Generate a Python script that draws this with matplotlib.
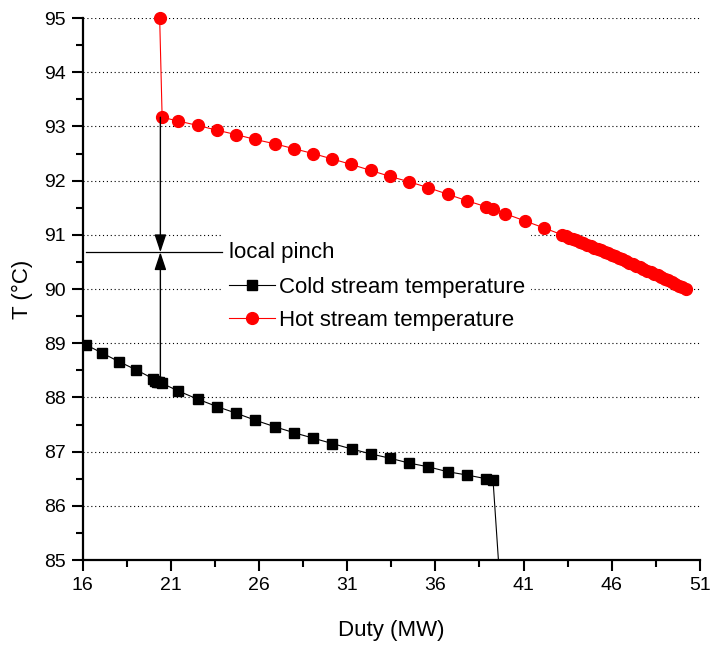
import matplotlib.pyplot as plt
from matplotlib.patches import Rectangle
from matplotlib.ticker import MultipleLocator

plt.rcParams['font.family'] = ['Liberation Sans', 'DejaVu Sans']

# cold stream (squares)
cold_x = [16.2, 17.11, 18.07, 19.04, 19.98, 20.08, 20.21, 20.36, 20.51, 21.43,
          22.52, 23.64, 24.71, 25.80, 26.90, 27.99, 29.07, 30.16, 31.25, 32.33,
          33.42, 34.51, 35.61, 36.70, 37.79, 38.89, 39.27, 39.68]
cold_t = [88.97, 88.82, 88.66, 88.51, 88.35, 88.31, 88.29, 88.28, 88.26, 88.12,
          87.97, 87.83, 87.71, 87.58, 87.46, 87.35, 87.25, 87.15, 87.05, 86.96,
          86.88, 86.79, 86.72, 86.63, 86.57, 86.50, 86.48, 84.5]

# hot stream (circles)
hot_x = [20.37, 20.51, 21.43, 22.52, 23.64, 24.71, 25.80, 26.90, 27.99, 29.07,
         30.16, 31.23, 32.33, 33.42, 34.51, 35.61, 36.70, 37.79, 38.87, 39.26,
         39.97, 41.06, 42.15,
         43.2, 43.4, 43.6, 43.8, 44.0, 44.2, 44.4, 44.6, 44.8, 45.0, 45.2, 45.4,
         45.6, 45.8, 46.0, 46.2, 46.4, 46.6, 46.8, 47.0, 47.2, 47.4, 47.6, 47.8,
         48.0, 48.2, 48.4, 48.6, 48.8, 49.0, 49.2, 49.4, 49.6, 49.8, 50.0, 50.2]
hot_t = [95.0, 93.17, 93.10, 93.02, 92.93, 92.85, 92.76, 92.68, 92.59, 92.50,
         92.40, 92.30, 92.19, 92.08, 91.98, 91.87, 91.75, 91.63, 91.52, 91.47,
         91.39, 91.26, 91.13,
         91.00, 90.975, 90.95, 90.924, 90.898, 90.872, 90.846, 90.82, 90.794,
         90.767, 90.74, 90.713, 90.686, 90.658, 90.63, 90.602, 90.574, 90.546,
         90.518, 90.489, 90.46, 90.431, 90.402, 90.372, 90.342, 90.312, 90.282,
         90.252, 90.222, 90.191, 90.16, 90.129, 90.098, 90.066, 90.034, 90.0]

# local pinch marker
pinch_x = 20.41
pinch_t = 90.68
pinch_hot = 93.17
pinch_cold = 88.27

x_ticks = [16, 21, 26, 31, 36, 41, 46, 51]
x_minor = [18.5, 23.5, 28.5, 33.5, 38.5, 43.5, 48.5]

fig = plt.figure(figsize=(7.12, 6.46), dpi=100)
ax = fig.add_axes([0.116, 0.133, 0.867, 0.839])

ax.plot(cold_x, cold_t, color='black', lw=0.8, marker='s', ms=7.5,
        label='Cold stream temperature', zorder=3)
ax.plot(hot_x, hot_t, color='red', lw=0.8, marker='o', ms=8.5,
        label='Hot stream temperature', zorder=3, clip_on=False)

# arrows meeting at the pinch
arr = dict(arrowstyle='-|>,head_length=0.6,head_width=0.2', color='black', lw=1.0,
           mutation_scale=18, shrinkA=0, shrinkB=0)
ax.annotate('', xy=(pinch_x, pinch_t), xytext=(pinch_x, pinch_hot), arrowprops=arr)
ax.annotate('', xy=(pinch_x, pinch_t), xytext=(pinch_x, pinch_cold), arrowprops=arr)
ax.plot([16.2, 23.93], [pinch_t, pinch_t], color='black', lw=0.9, zorder=4)

# white area behind the legend texts
ax.add_patch(Rectangle((0.2265, 0.4154), 0.5006, 0.188, transform=ax.transAxes,
                       facecolor='white', edgecolor='none', zorder=1))
ax.text(24.32, pinch_t, 'local pinch', fontsize=16, va='center', ha='left', zorder=5)

leg = ax.legend(loc='upper left', bbox_to_anchor=(0.2375, 0.523), frameon=False,
                fontsize=16, handlelength=2.05, handletextpad=0.2,
                labelspacing=0.55, borderpad=0, borderaxespad=0)

ax.set_xlim(16, 51)
ax.set_ylim(85, 95)
ax.set_xticks(x_ticks)
ax.set_xticks(x_minor, minor=True)
ax.yaxis.set_major_locator(MultipleLocator(1))
ax.yaxis.set_minor_locator(MultipleLocator(0.5))

ax.yaxis.grid(True, which='major', color='black', lw=0.8, linestyle=(0, (1, 2.5)))
ax.set_axisbelow(True)

ax.spines['top'].set_visible(False)
ax.spines['right'].set_visible(False)
ax.spines['left'].set_linewidth(1.6)
ax.spines['bottom'].set_linewidth(1.6)
ax.tick_params(which='major', direction='out', length=8, width=1.5, labelsize=14, pad=4)
ax.tick_params(which='minor', direction='out', length=5, width=1.5)

ax.set_xlabel('Duty (MW)', fontsize=16, labelpad=19)
ax.set_ylabel('T (°C)', fontsize=16, labelpad=8)

fig.savefig('out.png', dpi=100)
